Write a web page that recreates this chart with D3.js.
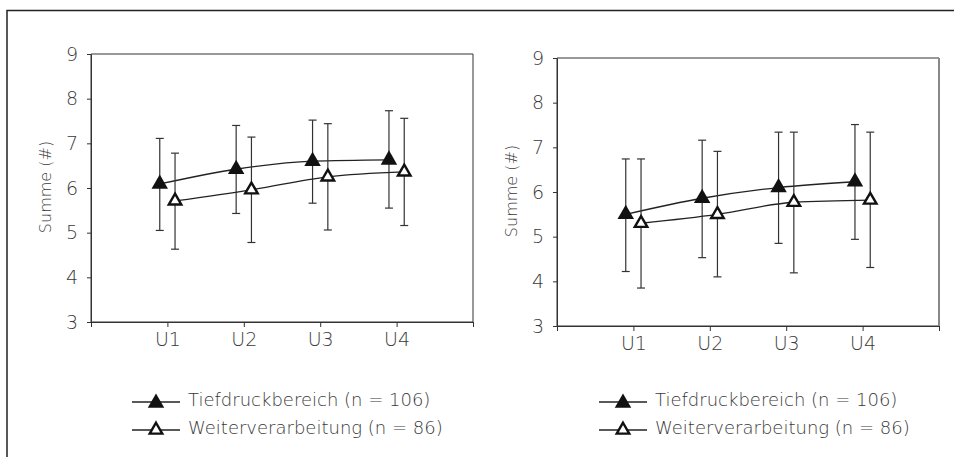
<!DOCTYPE html>
<html>
<head>
<meta charset="utf-8">
<script src="https://cdnjs.cloudflare.com/ajax/libs/d3/7.8.5/d3.min.js"></script>
<style>
  body { margin: 0; background: #fff; }
  svg text { font-family: "DejaVu Sans", sans-serif; font-weight: 200; fill: #3a3a3a; }
</style>
</head>
<body>
<svg class="chart"></svg>
<script>
'use strict';

var WIDTH = 954;
var HEIGHT = 457;

var categories = ['U1', 'U2', 'U3', 'U4'];
var yTicks = [3, 4, 5, 6, 7, 8, 9];
var seriesNames = ['Tiefdruckbereich (n = 106)', 'Weiterverarbeitung (n = 86)'];

// linkes Diagramm
var leftTiefMean = [6.09, 6.42, 6.60, 6.63];
var leftTiefLow = [5.05, 5.43, 5.66, 5.55];
var leftTiefHigh = [7.11, 7.40, 7.52, 7.73];
var leftWeiterMean = [5.71, 5.96, 6.25, 6.36];
var leftWeiterLow = [4.63, 4.78, 5.06, 5.16];
var leftWeiterHigh = [6.78, 7.14, 7.44, 7.56];

// rechtes Diagramm
var rightTiefMean = [5.50, 5.86, 6.10, 6.23];
var rightTiefLow = [4.22, 4.53, 4.85, 4.94];
var rightTiefHigh = [6.74, 7.16, 7.34, 7.51];
var rightWeiterMean = [5.30, 5.50, 5.77, 5.82];
var rightWeiterLow = [3.85, 4.10, 4.19, 4.31];
var rightWeiterHigh = [6.74, 6.91, 7.34, 7.34];

var svg = d3.select('svg.chart')
    .attr('width', WIDTH)
    .attr('height', HEIGHT);

// äußerer Rahmen (nur links und oben sichtbar)
svg.append('path')
    .attr('d', 'M7,' + HEIGHT + 'V10.5H' + WIDTH)
    .attr('fill', 'none')
    .attr('stroke', '#222')
    .attr('stroke-width', 1.5);

drawPanel({ left: 91, top: 54, width: 382, height: 268, legendX: 132, legendY: 402, rightEdge: '#333' },
    [makeSeries(leftTiefMean, leftTiefLow, leftTiefHigh), makeSeries(leftWeiterMean, leftWeiterLow, leftWeiterHigh)]);
drawPanel({ left: 557, top: 58, width: 382, height: 268, legendX: 599, legendY: 402, rightEdge: '#888' },
    [makeSeries(rightTiefMean, rightTiefLow, rightTiefHigh), makeSeries(rightWeiterMean, rightWeiterLow, rightWeiterHigh)]);

function makeSeries(mean, low, high) {
    return categories.map(function(c, i) {
        return { cat: c, i: i + 1, mean: mean[i], low: low[i], high: high[i] };
    });
}

function triangle(g, filled) {
    if (filled) {
        g.attr('d', d3.symbol(d3.symbolTriangle, 118)())
            .attr('fill', '#111')
            .attr('stroke', 'none');
    } else {
        g.attr('d', d3.symbol(d3.symbolTriangle, 68)())
            .attr('fill', '#fff')
            .attr('stroke', '#111')
            .attr('stroke-width', 2.4);
    }
}

function drawPanel(p, series) {
    var g = svg.append('g')
        .attr('transform', 'translate(' + p.left + ',' + p.top + ')');

    var x = d3.scaleLinear().domain([0, 5]).range([0, p.width]);
    var y = d3.scaleLinear().domain([3, 9]).range([p.height, 0]);

    // Plotrahmen
    g.append('path')
        .attr('d', 'M' + p.width + ',0H0V' + p.height + 'H' + p.width)
        .attr('fill', 'none')
        .attr('stroke', '#333')
        .attr('stroke-width', 1);
    g.append('line')
        .attr('x1', p.width).attr('x2', p.width)
        .attr('y1', 0).attr('y2', p.height)
        .attr('stroke', p.rightEdge)
        .attr('stroke-width', p.rightEdge === '#333' ? 1 : 2);

    var yAxis = g.append('g')
        .call(d3.axisLeft(y).tickValues(yTicks).tickSize(4).tickSizeOuter(0).tickPadding(9)
            .tickFormat(d3.format('d')));
    var xAxis = g.append('g')
        .attr('transform', 'translate(0,' + p.height + ')')
        .call(d3.axisBottom(x).tickValues([0, 1, 2, 3, 4, 5]).tickSize(5).tickSizeOuter(0).tickPadding(6)
            .tickFormat(function(d) { return categories[d - 1] || ''; }));

    [yAxis, xAxis].forEach(function(a) {
        a.attr('font-size', null).attr('font-family', null);
        a.select('.domain').attr('stroke', '#333');
        a.selectAll('.tick line').attr('stroke', '#333');
        a.selectAll('.tick text')
            .style('font-size', '19px')
            .attr('fill', '#3a3a3a');
    });

    g.append('text')
        .attr('transform', 'translate(' + (-46) + ',' + (p.height / 2 - 1) + ') rotate(-90)')
        .attr('text-anchor', 'middle')
        .attr('dy', '0.35em')
        .style('font-size', '16px')
        .text('Summe (#)');

    var offsets = [-0.1, 0.1];

    series.forEach(function(data, s) {
        var dx = offsets[s];
        var line = d3.line()
            .x(function(d) { return x(d.i + dx); })
            .y(function(d) { return y(d.mean); })
            .curve(d3.curveMonotoneX);

        g.append('path')
            .datum(data)
            .attr('d', line)
            .attr('fill', 'none')
            .attr('stroke', '#222')
            .attr('stroke-width', 1.3);

        var bars = g.append('g').selectAll('g')
            .data(data)
            .enter()
            .append('g')
            .attr('stroke', '#333')
            .attr('stroke-width', 1.2);

        bars.append('line')
            .attr('x1', function(d) { return x(d.i + dx); })
            .attr('x2', function(d) { return x(d.i + dx); })
            .attr('y1', function(d) { return y(d.low); })
            .attr('y2', function(d) { return y(d.high); });
        bars.append('line')
            .attr('x1', function(d) { return x(d.i + dx) - 4; })
            .attr('x2', function(d) { return x(d.i + dx) + 4; })
            .attr('y1', function(d) { return y(d.high); })
            .attr('y2', function(d) { return y(d.high); });
        bars.append('line')
            .attr('x1', function(d) { return x(d.i + dx) - 4; })
            .attr('x2', function(d) { return x(d.i + dx) + 4; })
            .attr('y1', function(d) { return y(d.low); })
            .attr('y2', function(d) { return y(d.low); });

        g.append('g').selectAll('path')
            .data(data)
            .enter()
            .append('path')
            .attr('transform', function(d) { return 'translate(' + x(d.i + dx) + ',' + y(d.mean) + ')'; })
            .call(triangle, s === 0);
    });

    // Legende
    var legend = svg.append('g')
        .attr('transform', 'translate(' + p.legendX + ',' + p.legendY + ')');

    var items = legend.selectAll('g')
        .data(seriesNames)
        .enter()
        .append('g')
        .attr('transform', function(d, i) { return 'translate(0,' + (i * 28) + ')'; });

    items.append('line')
        .attr('x1', 0).attr('x2', 48)
        .attr('y1', 0).attr('y2', 0)
        .attr('stroke', '#222')
        .attr('stroke-width', 1.3);
    items.append('path')
        .attr('transform', function(d, i) { return 'translate(24,' + (i === 0 ? 1 : 0) + ')'; })
        .each(function(d, i) { d3.select(this).call(triangle, i === 0); });
    items.append('text')
        .attr('x', 56)
        .attr('y', 4)
        .style('font-size', '18px')
        .text(function(d) { return d; });
}
</script>
</body>
</html>
